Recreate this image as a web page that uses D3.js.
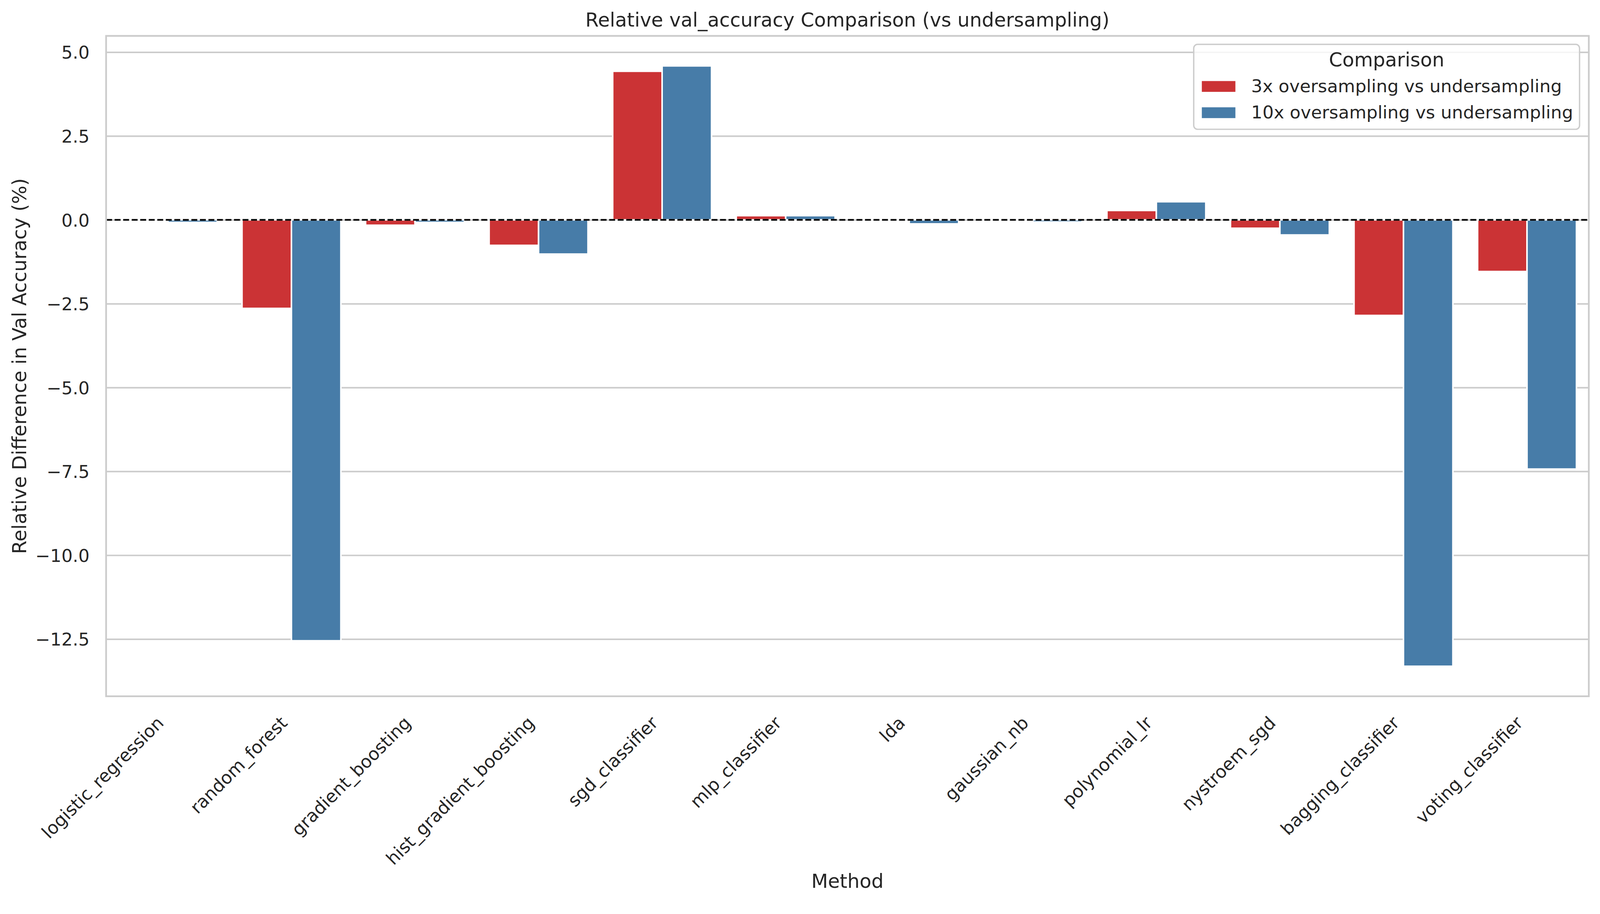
<!DOCTYPE html>
<html>
<head>
<meta charset="utf-8">
<script src="https://cdn.jsdelivr.net/npm/d3@7"></script>
<style>
  html, body { margin: 0; padding: 0; background: #fff; overflow: hidden; }
  #chart svg { display: block; width: 100vw; height: 56.402vw; }
  text { font-family: "DejaVu Sans", sans-serif; fill: #262626; }
</style>
</head>
<body>
<div id="chart"></div>
<script>
// values
const methods = ['logistic_regression', 'random_forest', 'gradient_boosting', 'hist_gradient_boosting',
  'sgd_classifier', 'mlp_classifier', 'lda', 'gaussian_nb', 'polynomial_lr', 'nystroem_sgd',
  'bagging_classifier', 'voting_classifier']
const seriesNames = ['3x oversampling vs undersampling', '10x oversampling vs undersampling']
const diff3x = [0, -2.64, -0.16, -0.76, 4.43, 0.125, 0, 0, 0.28, -0.25, -2.85, -1.54]
const diff10x = [-0.077, -12.55, -0.077, -1.02, 4.59, 0.125, -0.12, -0.065, 0.54, -0.45, -13.31, -7.43]
const yTicks = [-12.5, -10, -7.5, -5, -2.5, 0, 2.5, 5]
const colors = ['#cb3335', '#477ca8']

const width = 4147, height = 2339
const margin = {left: 275, right: 4147 - 4118, top: 93, bottom: 2339 - 1804}
const plotW = width - margin.left - margin.right
const plotH = height - margin.top - margin.bottom

// long format rows for the bars
const rows = []
methods.forEach((m, i) => {
  rows.push({method: m, series: seriesNames[0], value: diff3x[i]})
  rows.push({method: m, series: seriesNames[1], value: diff10x[i]})
})

// viewBox keeps the drawing at the window width with the original aspect
const svg = d3.select('#chart').append('svg')
  .attr('viewBox', `0 0 ${width} ${height}`)
  .style('background', '#fff')

const g = svg.append('g').attr('transform', `translate(${margin.left},${margin.top})`)

const x = d3.scaleBand().domain(methods).range([0, plotW]).paddingInner(0.2).paddingOuter(0.1)
const xSub = d3.scaleBand().domain(seriesNames).range([0, x.bandwidth()])
const color = d3.scaleOrdinal().domain(seriesNames).range(colors)

// matplotlib style 5% margins around the data (0 included)
const lo = Math.min(0, d3.min(rows, d => d.value))
const hi = Math.max(0, d3.max(rows, d => d.value))
const pad = (hi - lo) * 0.05
const y = d3.scaleLinear().domain([lo - pad, hi + pad]).range([plotH, 0])

// horizontal grid + y tick labels
const yAxis = g.append('g')
  .call(d3.axisLeft(y).tickValues(yTicks).tickFormat(d3.format('.1f')).tickSize(-plotW).tickPadding(43))
yAxis.select('.domain').remove()
yAxis.selectAll('line').attr('stroke', '#cccccc').attr('stroke-width', 4)
yAxis.selectAll('text').attr('font-size', 45.8).attr('dy', '0.364em')
  .style('font-family', '"DejaVu Sans", sans-serif').attr('fill', '#262626')

// bars (zero bars still get their white edge, like matplotlib)
g.append('g').selectAll('rect').data(rows).enter().append('rect')
  .attr('x', d => x(d.method) + xSub(d.series))
  .attr('width', xSub.bandwidth())
  .attr('y', d => y(Math.max(0, d.value)))
  .attr('height', d => Math.max(0.01, Math.abs(y(d.value) - y(0))))
  .attr('fill', d => color(d.series))
  .attr('stroke', '#ffffff').attr('stroke-width', 4)

// zero reference line
g.append('line')
  .attr('x1', 0).attr('x2', plotW).attr('y1', y(0)).attr('y2', y(0))
  .attr('stroke', '#000').attr('stroke-width', 4.2).attr('stroke-dasharray', '15.4,6.7')

// spines
g.append('rect').attr('width', plotW).attr('height', plotH)
  .attr('fill', 'none').attr('stroke', '#cccccc').attr('stroke-width', 4.5)

// x tick labels, rotated 45
const xAxis = g.append('g').attr('transform', `translate(0,${plotH})`)
  .call(d3.axisBottom(x).tickSize(0))
xAxis.select('.domain').remove()
xAxis.selectAll('text')
  .attr('font-size', 45.8).attr('text-anchor', 'end')
  .attr('x', -8).attr('y', 72).attr('dy', null)
  .attr('transform', 'rotate(-45,-8,72)')
  .style('font-family', '"DejaVu Sans", sans-serif').attr('fill', '#262626')

// titles
svg.append('text').attr('x', margin.left + plotW / 2).attr('y', 69)
  .attr('text-anchor', 'middle').attr('font-size', 50)
  .text('Relative val_accuracy Comparison (vs undersampling)')
svg.append('text').attr('x', margin.left + plotW / 2).attr('y', 2300)
  .attr('text-anchor', 'middle').attr('font-size', 50).text('Method')
svg.append('text').attr('transform', `translate(68,${margin.top + plotH / 2}) rotate(-90)`)
  .attr('text-anchor', 'middle').attr('font-size', 50)
  .text('Relative Difference in Val Accuracy (%)')

// legend
const legend = svg.append('g').attr('transform', 'translate(3094,115)')
legend.append('rect').attr('width', 1000).attr('height', 220).attr('rx', 10)
  .attr('fill', '#fff').attr('fill-opacity', 0.8)
  .attr('stroke', '#cccccc').attr('stroke-width', 3.5)
legend.append('text').attr('x', 500).attr('y', 57).attr('text-anchor', 'middle')
  .attr('font-size', 50).text('Comparison')
const items = legend.selectAll('.item').data(seriesNames).enter().append('g')
  .attr('class', 'item')
  .attr('transform', (d, i) => `translate(21,${95 + i * 68})`)
items.append('rect').attr('width', 87).attr('height', 28).attr('fill', d => color(d))
items.append('text').attr('x', 128).attr('y', 29).attr('font-size', 45.8).text(d => d)
</script>
</body>
</html>
